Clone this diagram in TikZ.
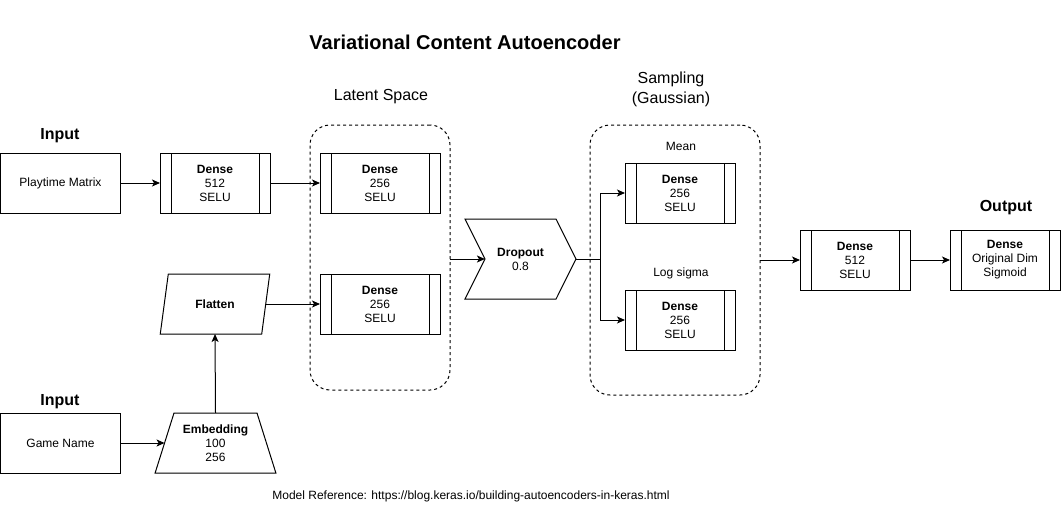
\documentclass[tikz,border=0pt]{standalone}
\usepackage{fontspec}
\setmainfont{Liberation Sans}
\usetikzlibrary{shapes.geometric,shapes.symbols,arrows.meta}
\tikzset{
  every node/.style={font=\fontsize{12}{14}\selectfont, inner sep=0pt, outer sep=0pt},
  base/.style={draw, line width=1pt, fill=white, align=center},
  plainbox/.style={base, rectangle, minimum width=120pt, minimum height=60pt},
  procbox/.style={base, rectangle, minimum width=#1, minimum height=60pt,
    path picture={
      \draw[line width=1pt] ([xshift=11pt]path picture bounding box.north west) -- ([xshift=11pt]path picture bounding box.south west);
      \draw[line width=1pt] ([xshift=-11pt]path picture bounding box.north east) -- ([xshift=-11pt]path picture bounding box.south east);
    }},
  procbox/.default=110pt,
  grp/.style={draw, line width=1pt, dash pattern=on 3pt off 3pt, rounded corners=20pt, rectangle},
  arr/.style={-{Stealth[length=8pt,width=7pt,inset=2pt]}, line width=1pt},
  ln/.style={line width=1pt},
  heading/.style={font=\fontsize{16}{19}\selectfont\bfseries},
  caption/.style={font=\fontsize{16}{20}\selectfont, align=center},
}
\begin{document}
\begin{tikzpicture}[x=1pt, y=-1pt]
\useasboundingbox (0,0) rectangle (1061,506);

% titles and labels
\node[font=\fontsize{20}{24}\selectfont\bfseries] (title) at (465,42.5) {Variational Content Autoencoder};
\node[heading] (in1) at (60,136) {Input};
\node[heading] (in2) at (60,402) {Input};
\node[heading] (outl) at (1006,208) {Output};
\node[caption] (latl) at (381,97) {Latent Space};
\node[caption] (samp) at (671,89) {Sampling\\(Gaussian)};
\node (meanl) at (681,146) {Mean};
\node (logl) at (681,273) {Log sigma};
\node (foot) at (471,496) {Model Reference: https://blog.keras.io/building-autoencoders-in-keras.html};

% groups
\node[grp, minimum width=140pt, minimum height=265pt] (latent) at (380,257.5) {};
\node[grp, minimum width=170pt, minimum height=270pt] (sampling) at (675,260) {};

% inputs
\node[plainbox] (pm) at (60.5,183) {Playtime Matrix};
\node[plainbox] (gn) at (60.5,443) {Game Name};

% layers
\node[procbox] (d1) at (215,183) {\textbf{Dense}\\512\\SELU};
\node[procbox=120pt] (l1) at (380,183) {\textbf{Dense}\\256\\SELU};
\node[procbox=120pt] (l2) at (380,304) {\textbf{Dense}\\256\\SELU};
\node[base, trapezium, trapezium stretches=true, trapezium left angle=69, trapezium right angle=111,
      minimum width=110pt, minimum height=60pt] (flat) at (215,304) {\textbf{Flatten}};
\node[base, trapezium, trapezium stretches=true, trapezium left angle=68, trapezium right angle=68,
      minimum width=121pt, minimum height=60pt] (emb) at (215.5,443) {\textbf{Embedding}\\100\\256};
\node[base, signal, signal to=east, signal from=west, signal pointer angle=127,
      minimum width=111pt, minimum height=80pt] (drop) at (520.5,259) {\textbf{Dropout}\\0.8};
\node[procbox] (mean) at (680,193) {\textbf{Dense}\\256\\SELU};
\node[procbox] (logs) at (680,320) {\textbf{Dense}\\256\\SELU};
\node[procbox] (d5) at (855,260) {\textbf{Dense}\\512\\SELU};
\node[procbox] (out) at (1005,260) {\textbf{Dense}\\Original Dim\\Sigmoid};

\coordinate (split) at (600,259);

% connectors
\draw[arr] (pm) -- (d1);
\draw[arr] (d1) -- (l1);
\draw[arr] (flat.east) -- (l2.west |- flat.east);
\draw[arr] (gn) -- (emb.west |- gn.east);
\draw[arr] (emb.north) -- (flat.south);
\draw[arr] (latent.east |- drop.west) -- (drop.west);
\draw[ln] (drop.east) -- (split);
\draw[arr] (split) |- (mean.west);
\draw[arr] (split) |- (logs.west);
\draw[arr] (sampling.east) -- (d5.west);
\draw[arr] (d5) -- (out);
\end{tikzpicture}
\end{document}
